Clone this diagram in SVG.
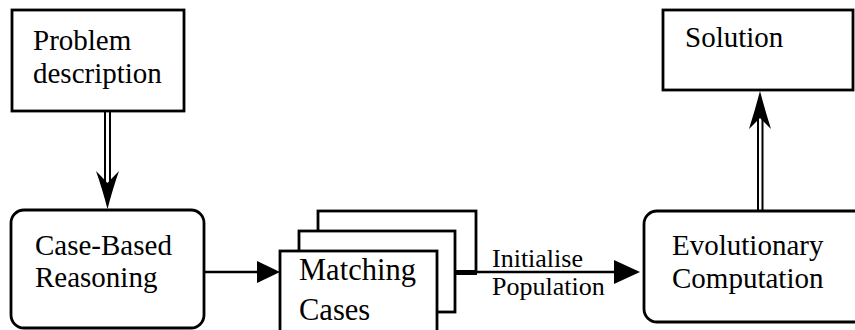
<svg xmlns="http://www.w3.org/2000/svg" width="855" height="330" viewBox="0 0 855 330">
  <style>
    .box { fill: #ffffff; stroke: #000000; stroke-width: 2.8; }
    .lbl { font-family: "Liberation Serif", "Times New Roman", serif; font-size: 29px; fill: #000000; }
    .big { font-size: 30.5px; }
    .small { font-size: 26px; }
    .line { fill: none; stroke: #000000; stroke-width: 2.5; }
    .thin { fill: none; stroke: #000000; stroke-width: 2; }
    .head { fill: #000000; stroke: none; }
  </style>
  <rect width="855" height="330" fill="#ffffff"/>

  <g id="problem-description">
    <rect class="box" x="12" y="10" width="172" height="101"/>
    <text class="lbl" x="33" y="50">Problem</text>
    <text class="lbl" x="33" y="83">description</text>
  </g>

  <g id="case-based-reasoning">
    <rect class="box" x="11" y="210" width="193" height="118" rx="13" ry="13"/>
    <text class="lbl" x="35" y="255">Case-Based</text>
    <text class="lbl" x="35" y="287">Reasoning</text>
  </g>

  <g id="matching-cases">
    <rect class="box" x="318" y="211" width="158" height="61"/>
    <rect class="box" x="299" y="231" width="156" height="81"/>
    <rect class="box" x="280" y="251" width="157" height="90"/>
    <text class="lbl big" x="299" y="280">Matching</text>
    <text class="lbl big" x="299" y="320">Cases</text>
  </g>

  <g id="evolutionary-computation">
    <rect class="box" x="644" y="211" width="230" height="111" rx="13" ry="13"/>
    <text class="lbl" x="672" y="255">Evolutionary</text>
    <text class="lbl" x="672" y="288">Computation</text>
  </g>

  <g id="solution">
    <rect class="box" x="663" y="10" width="190" height="80"/>
    <text class="lbl" x="685" y="47">Solution</text>
  </g>

  <g id="connectors">
    <!-- problem description down to CBR: double shaft, concave head -->
    <path class="thin" d="M105,112 V192 M110,112 V192"/>
    <path class="head" d="M107.5,209 Q102,188 96,171 Q102,177 107.5,183 Q113,177 119,171 Q113,188 107.5,209 Z"/>

    <!-- CBR to matching cases -->
    <path class="line" d="M204,272 H260"/>
    <path class="head" d="M280,272 L257,261 L257,283 Z"/>

    <!-- matching cases to evolutionary computation -->
    <path fill="none" stroke="#000" stroke-width="5" d="M456,272.5 H477"/>
    <path class="line" d="M476,272 H617"/>
    <path class="head" d="M640,272 L614,260 L614,284 Z"/>
    <text class="lbl small" x="492" y="267">Initialise</text>
    <text class="lbl small" x="492" y="295">Population</text>

    <!-- evolutionary computation up to solution: double shaft, concave head -->
    <path class="thin" d="M758,210 V108 M762.5,210 V108"/>
    <path class="head" d="M760,91 Q755,110 749,129 Q755,123 760,118 Q765,123 771,129 Q765,110 760,91 Z"/>
  </g>
</svg>
